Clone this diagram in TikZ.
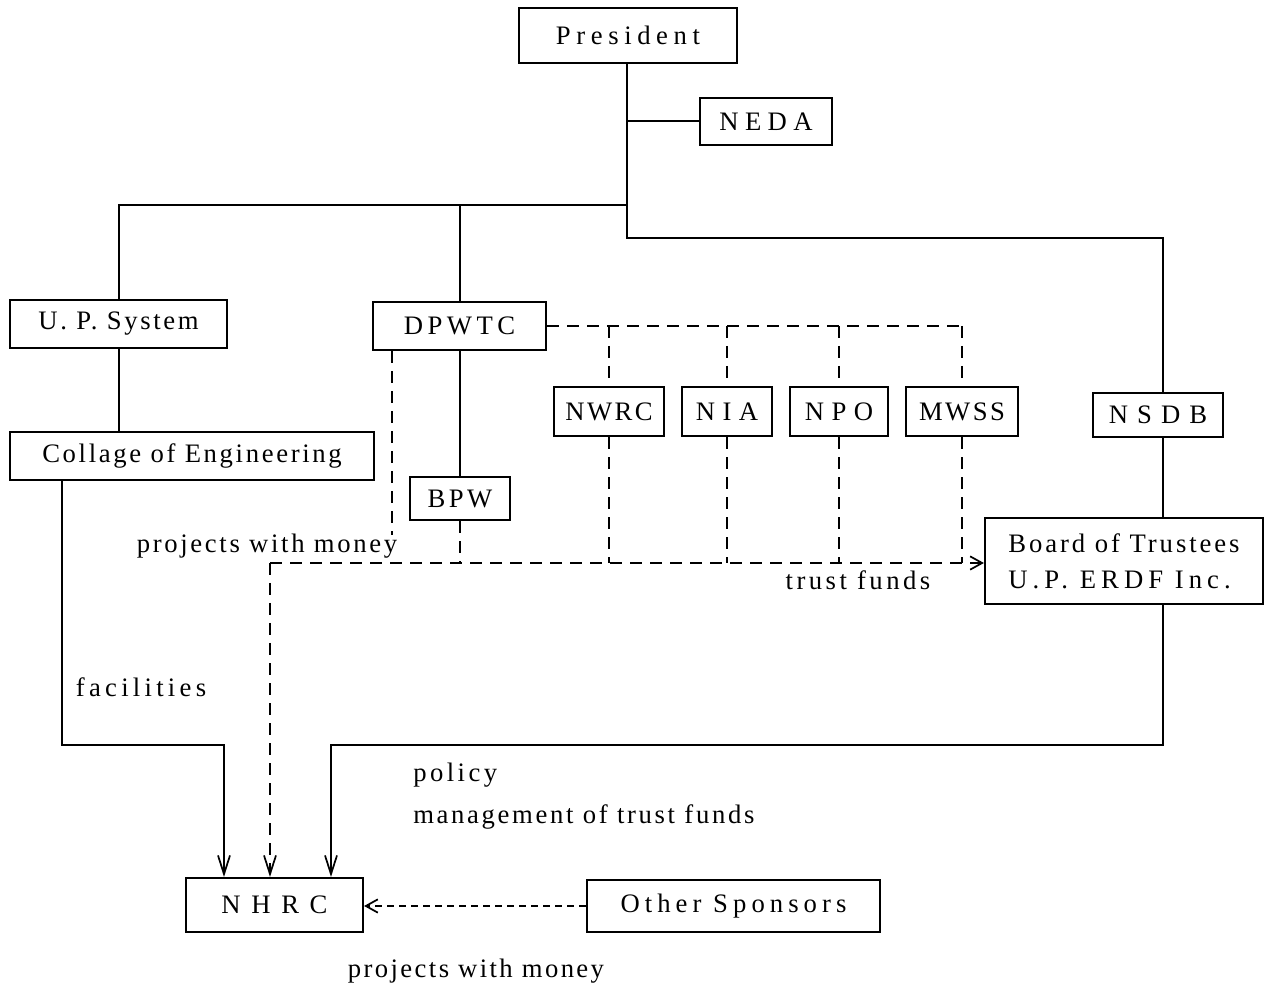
\documentclass[tikz,border=0pt]{standalone}
\usepackage{fontspec}
\setmainfont{Liberation Serif}
\usetikzlibrary{arrows.meta}
\newcommand\ls[2]{{\addfontfeatures{LetterSpace=#1}#2}}
\begin{document}
\begin{tikzpicture}[x=0.75pt,y=-0.75pt,
  every node/.style={font=\fontsize{20}{27}\selectfont, inner sep=0pt},
  box/.style 2 args={draw, line width=1.6pt, minimum width=#1*0.75pt, minimum height=#2*0.75pt},
  ln/.style={line width=1.5pt},
  dsh/.style={line width=1.5pt, dash pattern=on 9pt off 6pt},
  dshs/.style={line width=1.3pt, dash pattern=on 5pt off 4pt},
  arr/.style={-{Straight Barb[length=14pt,width=9pt,line width=1.3pt]}},
  arrs/.style={-{Straight Barb[length=9pt,width=10pt,line width=1.3pt]}}
]
\useasboundingbox (0,0) rectangle (1265,987);

% boxes
\node[box={218}{55}] (pres) at (628,35.5) {\ls{21}{President}};
\node[box={132}{47}] (neda) at (766,121.5) {\ls{24}{NEDA}};
\node[box={217}{48}] (ups) at (118.5,324) {\ls{10}{U. P. System}};
\node[box={173}{48}] (dpwtc) at (459.5,326) {\ls{17}{DPWTC}};
\node[box={364}{48}] (coll) at (192,456) {\ls{10}{Collage of Engineering}};
\node[box={100}{43}] (bpw) at (460,498.5) {\ls{13}{BPW}};
\node[box={110}{49}] (nwrc) at (609,411.5) {\ls{9}{NWRC}};
\node[box={90}{49}] (nia) at (727,411.5) {\ls{3}{N I A}};
\node[box={98}{49}] (npo) at (839,411.5) {\ls{3}{N P O}};
\node[box={112}{49}] (mwss) at (962,411.5) {\ls{9}{MWSS}};
\node[box={130}{44}] (nsdb) at (1158,415) {\ls{9}{N S D B}};
\node[box={278}{86}, align=left] (board) at (1124,561) {\ls{11}{Board of Trustees}\\\ls{19}{U.P. ERDF Inc.}};
\node[box={177}{54}] (nhrc) at (274.5,905) {\ls{15}{N H R C}};
\node[box={293}{52}] (other) at (733.5,906) {\ls{19}{Other Sponsors}};

% labels
\node (lpm1) at (267,546) {\ls{10}{projects with money}};
\node (ltf) at (858,580) {\ls{13}{trust funds}};
\node (lfac) at (141,687) {\ls{16}{facilities}};
\node[anchor=west] (lpol) at (413,775) {\ls{13}{policy}};
\node[anchor=west] (lman) at (413,817) {\ls{10}{management of trust funds}};
\node (lpm2) at (476,971) {\ls{9}{projects with money}};

% coordinates
\coordinate (tr) at (627,238);
\coordinate (tr2) at (1163,238);
\coordinate (h1) at (627,205);
\coordinate (cA) at (62,745);
\coordinate (cB) at (224,745);
\coordinate (bA) at (1163,745);
\coordinate (bB) at (331,745);
\coordinate (L) at (270,563);
\coordinate (dl) at (392,535);

% solid connectors
\draw[ln] (pres.south -| tr) -- (tr) -- (tr2) -- (tr2 |- nsdb.north);
\draw[ln] (tr |- neda.west) -- (neda.west);
\draw[ln] (ups.north) -- (ups.north |- h1) -- (h1);
\draw[ln] (dpwtc.north) -- (dpwtc.north |- h1);
\draw[ln] (ups.south) -- (ups.south |- coll.north);
\draw[ln] (dpwtc.south) -- (dpwtc.south |- bpw.north);
\draw[ln] (nsdb.south -| tr2) -- (board.north -| tr2);
\draw[ln,arr] (coll.south -| cA) -- (cA) -- (cB) -- (cB |- nhrc.north);
\draw[ln,arr] (board.south -| bA) -- (bA) -- (bB) -- (bB |- nhrc.north);

% dashed connectors
\draw[dsh] (dpwtc.east) -- (dpwtc.east -| mwss.north);
\draw[dsh] (dpwtc.east -| nwrc.north) -- (nwrc.north);
\draw[dsh] (dpwtc.east -| nia.north) -- (nia.north);
\draw[dsh] (dpwtc.east -| npo.north) -- (npo.north);
\draw[dsh] (dpwtc.east -| mwss.north) -- (mwss.north);
\draw[dsh] (nwrc.south) -- (nwrc.south |- L);
\draw[dsh] (nia.south) -- (nia.south |- L);
\draw[dsh] (npo.south) -- (npo.south |- L);
\draw[dsh] (mwss.south) -- (mwss.south |- L);
\draw[dsh] (dl |- dpwtc.south) -- (dl);
\draw[dsh] (bpw.south) -- (bpw.south |- L);
\draw[dsh,arrs] (L) -- (L -| board.west);
\draw[dsh,arr] (L) -- (L |- nhrc.north);
\draw[dshs,arrs] (other.west) -- (other.west -| nhrc.east);
\end{tikzpicture}
\end{document}
